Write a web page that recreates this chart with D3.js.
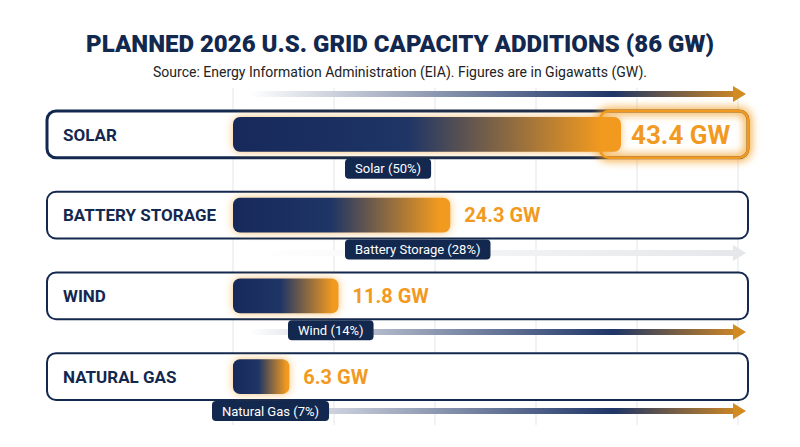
<!DOCTYPE html><html><head><meta charset="utf-8">
<script src="https://cdn.jsdelivr.net/npm/d3@7"></script>
<style>body{margin:0;background:#fff}svg{font-family:Roboto,"Noto Sans",sans-serif}</style></head><body>
<svg id="c" width="800" height="447"></svg>
<script>
const categories=["SOLAR","BATTERY STORAGE","WIND","NATURAL GAS"];
const values=[43.4,24.3,11.8,6.3];
const valueLabels=["43.4 GW","24.3 GW","11.8 GW","6.3 GW"];
const pillLabels=["Solar (50%)","Battery Storage (28%)","Wind (14%)","Natural Gas (7%)"];
const gridTicks=[0,11,22,33,44,55];
const navy="#13284f",orange="#f29a1f";
const svg=d3.select("#c");
const defs=svg.append("defs");
const g1=defs.append("linearGradient").attr("id","bar");
g1.append("stop").attr("offset","0%").attr("stop-color","#16295a");
g1.append("stop").attr("offset","45%").attr("stop-color","#1e3566");
g1.append("stop").attr("offset","95%").attr("stop-color",orange);
const g2=defs.append("linearGradient").attr("id","arr");
g2.append("stop").attr("offset","0%").attr("stop-color","#fff");
g2.append("stop").attr("offset","75%").attr("stop-color","#1e3566");
g2.append("stop").attr("offset","100%").attr("stop-color","#c98526");
const g3=defs.append("linearGradient").attr("id","arrg");
g3.append("stop").attr("offset","0%").attr("stop-color","#fff");
g3.append("stop").attr("offset","100%").attr("stop-color","#e6e7ea");
const f=defs.append("filter").attr("id","glow").attr("x","-20%").attr("y","-60%").attr("width","140%").attr("height","220%");
f.append("feGaussianBlur").attr("stdDeviation",4);
const x=d3.scaleLinear().domain([0,43.4]).range([233,621]);
const y=d3.scaleBand().domain(categories).range([111,400]).paddingInner(0.42).paddingOuter(0);
svg.append("text").attr("x",400).attr("y",52).attr("text-anchor","middle").attr("font-size",24).attr("font-weight",900).attr("fill",navy).text("PLANNED 2026 U.S. GRID CAPACITY ADDITIONS (86 GW)");
svg.append("text").attr("x",400).attr("y",77).attr("text-anchor","middle").attr("font-size",14).attr("fill","#222").text("Source: Energy Information Administration (EIA). Figures are in Gigawatts (GW).");
const gx=d3.scaleLinear().domain([0,11]).range([233,334]);
svg.selectAll(".gl").data(gridTicks).join("line").attr("x1",d=>gx(d)).attr("x2",d=>gx(d)).attr("y1",88).attr("y2",425).attr("stroke","#e3e5ea").attr("stroke-width",1);
const arrowYs=[94,253,332,411];
arrowYs.forEach((ay,i)=>{
 const grey=i===1;
 svg.append("rect").attr("x",250).attr("y",ay-3).attr("width",485).attr("height",6).attr("fill",grey?"url(#arrg)":"url(#arr)");
 svg.append("path").attr("d",`M733,${ay-8}L746,${ay}L733,${ay+8}Z`).attr("fill",grey?"#e6e7ea":"#d28a22");
});
const pillLeft=[345,345,288,212];
const bh=y.bandwidth();
categories.forEach((c,i)=>{
 const yy=y(c),v=values[i],first=i===0;
 svg.append("rect").attr("x",47).attr("y",yy).attr("width",701).attr("height",bh).attr("rx",9).attr("fill","#fff").attr("stroke",navy).attr("stroke-width",first?3:2);
 if(first){svg.append("rect").attr("x",600).attr("y",yy).attr("width",148).attr("height",bh).attr("rx",9).attr("fill","none").attr("stroke",orange).attr("stroke-width",6).attr("filter","url(#glow)");
  svg.append("rect").attr("x",600).attr("y",yy).attr("width",148).attr("height",bh).attr("rx",9).attr("fill","none").attr("stroke",orange).attr("stroke-width",2.5);}
 const bx=x(0),bw=x(v)-x(0);
 svg.append("rect").attr("x",bx).attr("y",yy+6).attr("width",bw).attr("height",bh-12).attr("rx",7).attr("fill",orange).attr("opacity",0.6).attr("filter","url(#glow)");
 svg.append("rect").attr("x",bx).attr("y",yy+6).attr("width",bw).attr("height",bh-12).attr("rx",7).attr("fill","url(#bar)");
 svg.append("text").attr("x",x(v)+(first?10:14)).attr("y",yy+bh/2).attr("dy","0.36em").attr("font-size",first?26:20).attr("font-weight",700).attr("fill",orange).text(valueLabels[i]);
 svg.append("text").attr("x",63).attr("y",yy+bh/2).attr("dy","0.36em").attr("font-size",17).attr("font-weight",700).attr("fill",navy).text(c);
 const py=yy+bh+1;
 const t=svg.append("text").attr("font-size",13).attr("fill","#fff").text(pillLabels[i]);
 const w=t.node().getComputedTextLength()+20;
 svg.append("rect").attr("x",pillLeft[i]).attr("y",py).attr("width",w).attr("height",20).attr("rx",4).attr("fill",navy);
 t.attr("x",pillLeft[i]+w/2).attr("y",py+14.5).attr("text-anchor","middle").raise();
});
</script></body></html>
